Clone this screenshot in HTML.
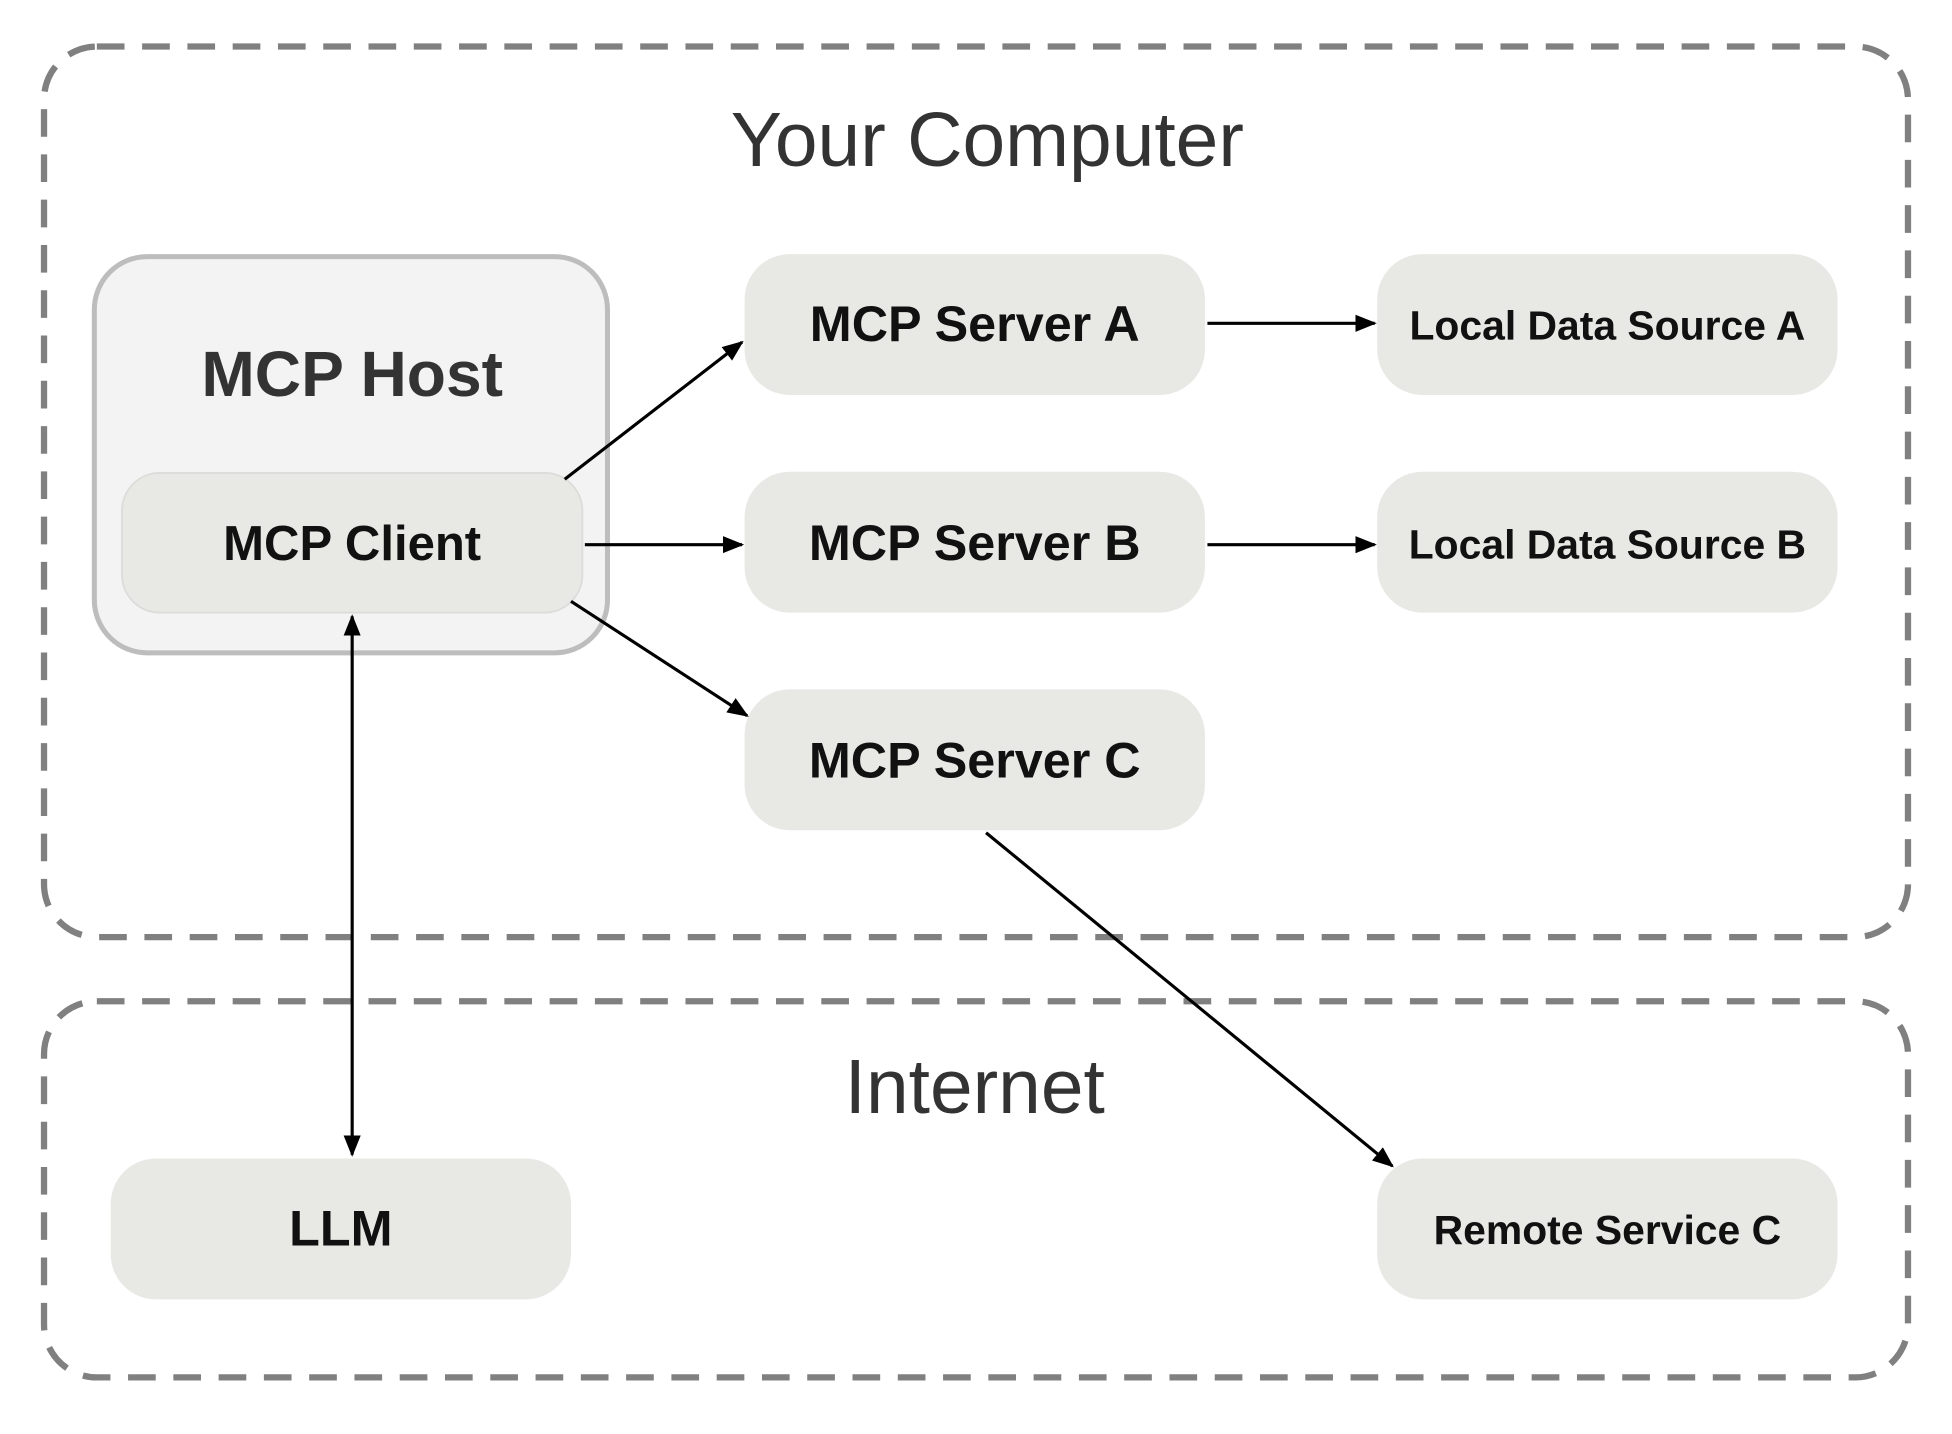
<!DOCTYPE html>
<html><head><meta charset="utf-8"><style>
html,body{margin:0;padding:0;background:#fff;width:1952px;height:1434px;overflow:hidden}
svg{display:block}
text{font-family:"Liberation Sans",sans-serif;text-anchor:middle}
.b{font-weight:bold;fill:#111}
</style></head><body>
<svg width="1952" height="1434" viewBox="0 0 1552 1140" preserveAspectRatio="none" xmlns="http://www.w3.org/2000/svg">
<defs>
<marker id="a" viewBox="0 0 10 10" refX="9" refY="5" markerWidth="17" markerHeight="17" orient="auto-start-reverse" markerUnits="userSpaceOnUse">
<path d="M0,1 L10,5 L0,9 z" fill="#000"/></marker>
</defs>
<rect x="35" y="37" width="1482" height="708" rx="42" fill="none" stroke="#808080" stroke-width="5" stroke-dasharray="22 14"/>
<rect x="35" y="796" width="1482" height="299" rx="42" fill="none" stroke="#808080" stroke-width="5" stroke-dasharray="22 14"/>
<text x="785" y="132" font-size="61" fill="#333">Your Computer</text>
<text x="775" y="885" font-size="61" fill="#333">Internet</text>

<rect x="75" y="204" width="408" height="315" rx="42" fill="#f3f3f3" stroke="#bdbdbd" stroke-width="4"/>
<text class="b" x="280" y="315" font-size="51" style="fill:#333">MCP Host</text>
<rect x="97" y="376" width="366" height="111" rx="30" fill="#e8e8e4" stroke="#dcdcda" stroke-width="1.5"/>
<text class="b" x="280" y="445" font-size="39">MCP Client</text>

<g fill="#e8e8e4">
<rect x="592" y="202" width="366" height="112" rx="36"/>
<rect x="592" y="375" width="366" height="112" rx="36"/>
<rect x="592" y="548" width="366" height="112" rx="36"/>
<rect x="1095" y="202" width="366" height="112" rx="36"/>
<rect x="1095" y="375" width="366" height="112" rx="36"/>
<rect x="88" y="921" width="366" height="112" rx="36"/>
<rect x="1095" y="921" width="366" height="112" rx="36"/>
</g>
<text class="b" x="775" y="271" font-size="40">MCP Server A</text>
<text class="b" x="775" y="445" font-size="40">MCP Server B</text>
<text class="b" x="775" y="618" font-size="40">MCP Server C</text>
<text class="b" x="1278" y="270" font-size="32.5">Local Data Source A</text>
<text class="b" x="1278" y="444" font-size="32.5">Local Data Source B</text>
<text class="b" x="271" y="990" font-size="40">LLM</text>
<text class="b" x="1278" y="989" font-size="32.5">Remote Service C</text>

<g stroke="#000" stroke-width="2.5" fill="none">
<line x1="449" y1="381" x2="590" y2="272" marker-end="url(#a)"/>
<line x1="465" y1="433" x2="590" y2="433" marker-end="url(#a)"/>
<line x1="454" y1="478" x2="594" y2="569" marker-end="url(#a)"/>
<line x1="960" y1="257" x2="1093" y2="257" marker-end="url(#a)"/>
<line x1="960" y1="433" x2="1093" y2="433" marker-end="url(#a)"/>
<line x1="784" y1="662" x2="1107" y2="927" marker-end="url(#a)"/>
<line x1="280" y1="490" x2="280" y2="918" marker-start="url(#a)" marker-end="url(#a)"/>
</g>
</svg>
</body></html>
